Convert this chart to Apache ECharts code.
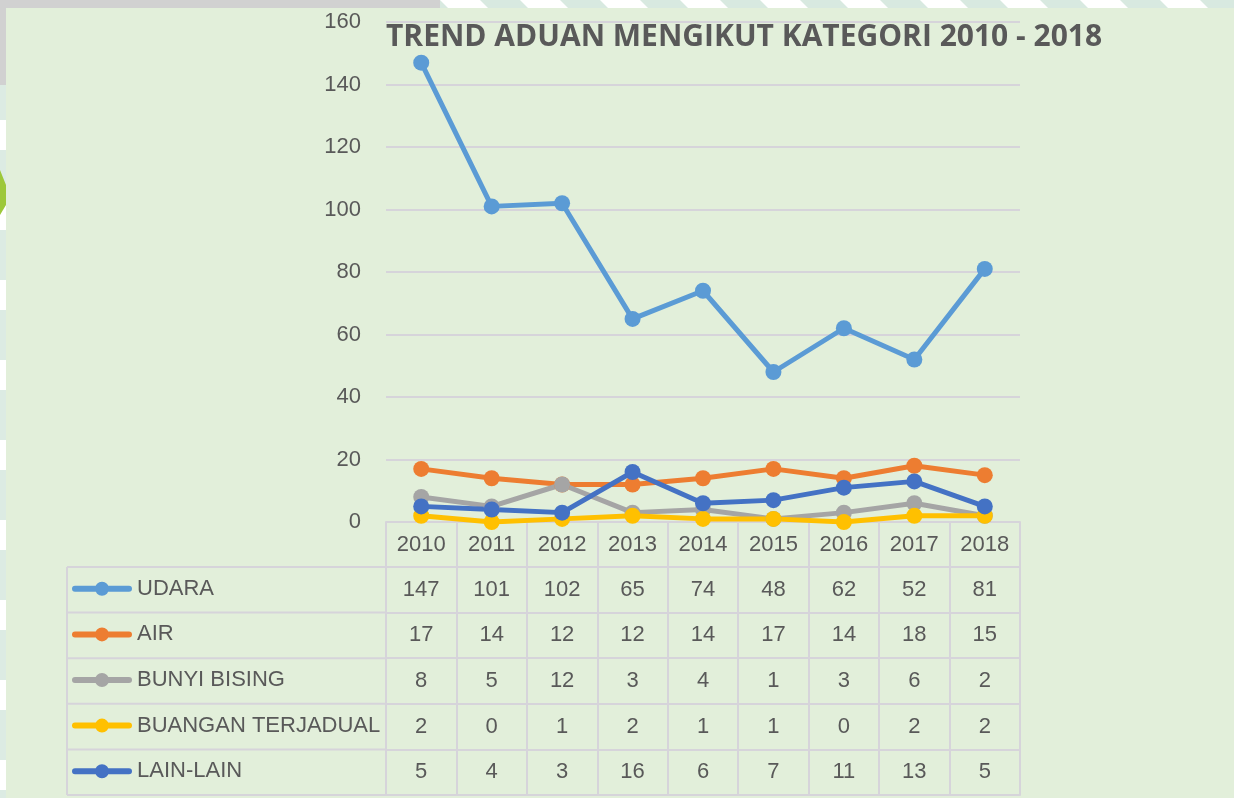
<!DOCTYPE html>
<html>
<head>
<meta charset="utf-8">
<title>Trend Aduan Mengikut Kategori 2010 - 2018</title>
<script src="https://cdn.jsdelivr.net/npm/echarts@6/dist/echarts.min.js"></script>
<style>
  html, body { margin: 0; padding: 0; background: #e2efda; }
  #chart { width: 1234px; height: 798px; }
</style>
</head>
<body>
<div id="chart"></div>
<script>
// data
var years = ["2010", "2011", "2012", "2013", "2014", "2015", "2016", "2017", "2018"];
var seriesNames = ["UDARA", "AIR", "BUNYI BISING", "BUANGAN TERJADUAL", "LAIN-LAIN"];
var udara = [147, 101, 102, 65, 74, 48, 62, 52, 81];
var air = [17, 14, 12, 12, 14, 17, 14, 18, 15];
var bunyiBising = [8, 5, 12, 3, 4, 1, 3, 6, 2];
var buanganTerjadual = [2, 0, 1, 2, 1, 1, 0, 2, 2];
var lainLain = [5, 4, 3, 16, 6, 7, 11, 13, 5];
var yTicks = [0, 20, 40, 60, 80, 100, 120, 140, 160];

var allValues = [udara, air, bunyiBising, buanganTerjadual, lainLain];
var colors = ["#5b9bd5", "#ed7d31", "#a5a5a5", "#ffc000", "#4472c4"];

var textColor = "#595959";
var lineColor = "#d6d4da";
var font = "'Liberation Sans', Arial, sans-serif";
var fs = 22;

// layout of the plot and table
var gridLeft = 386, gridRight = 214, gridTop = 22, gridBottom = 276;
var axisY = 798 - gridBottom;   // 522
var headH = 45;
var rowH = 45.6;
var tableLeft = 67;

// legend icon: thick rounded line with a dot in the middle
var legendIcon = "path://M3,4.5H57a3,3 0 0,1 0,6H3a3,3 0 0,1 0,-6Z" +
    "M23,7.5a7,7 0 1,1 14,0a7,7 0 1,1 -14,0Z";

var chart = echarts.init(document.getElementById("chart"));

var xAxes = [];
// header row with the years
xAxes.push({
    type: "category", data: years, position: "bottom", offset: 0,
    axisLine: { show: true, lineStyle: { color: lineColor, width: 2 } },
    axisTick: { show: true, length: headH, lineStyle: { color: lineColor, width: 2 } },
    axisLabel: { color: textColor, fontSize: fs, fontFamily: font, verticalAlign: "middle", margin: headH / 2 }
});
// one axis per table row, labels are the series values
allValues.forEach(function (vals, k) {
    xAxes.push({
        type: "category", data: years, position: "bottom", offset: headH + k * rowH,
        axisLine: { show: true, lineStyle: { color: lineColor, width: 2 } },
        axisTick: { show: true, length: rowH, lineStyle: { color: lineColor, width: 2 } },
        axisLabel: {
            color: textColor, fontSize: fs, fontFamily: font, verticalAlign: "middle", margin: rowH / 2,
            formatter: function (v, i) { return String(vals[i]); }
        }
    });
});
// closing line under the last row
xAxes.push({
    type: "category", data: years, position: "bottom", offset: headH + 5 * rowH,
    axisLine: { show: true, lineStyle: { color: lineColor, width: 2 } },
    axisTick: { show: false }, axisLabel: { show: false }
});

var legends = seriesNames.map(function (name, k) {
    var cy = axisY + headH + k * rowH + rowH / 2;
    return {
        data: [{ name: name, icon: legendIcon }], left: 72, top: cy - 12, orient: "vertical",
        itemWidth: 60, itemHeight: 14, itemGap: 0, padding: 0,
        selectedMode: false,
        textStyle: { color: textColor, fontSize: fs, fontFamily: font }
    };
});

var series = seriesNames.map(function (name, k) {
    return {
        name: name, type: "line", data: allValues[k],
        symbol: "circle", symbolSize: 16,
        lineStyle: { width: 5, color: colors[k] },
        itemStyle: { color: colors[k] },
        animation: false
    };
});

// table lines in the legend column + frame decorations
var graphics = [];
for (var r = 0; r <= 5; r++) {
    var y = axisY + headH + r * rowH;
    graphics.push({
        type: "line", shape: { x1: tableLeft, y1: y, x2: gridLeft, y2: y },
        style: { stroke: lineColor, lineWidth: 2 }
    });
}
graphics.push({
    type: "line", shape: { x1: tableLeft, y1: axisY + headH, x2: tableLeft, y2: axisY + headH + 5 * rowH },
    style: { stroke: lineColor, lineWidth: 2 }
});
// top frame strip
graphics.push({ type: "rect", shape: { x: 0, y: 0, width: 1234, height: 8 }, style: { fill: "#d1d1d1" }, z: -1 });
graphics.push({ type: "rect", shape: { x: 440, y: 0, width: 794, height: 8 }, style: { fill: "#d8e9e0" }, z: -1 });
for (var sx = 440; sx < 1234; sx += 80) {
    graphics.push({
        type: "polygon", shape: { points: [[sx, 0], [sx + 40, 0], [sx + 48, 8], [sx + 8, 8]] },
        style: { fill: "#ffffff" }, z: -1
    });
}
// left frame strip
graphics.push({ type: "rect", shape: { x: 0, y: 0, width: 6, height: 85 }, style: { fill: "#d1d1d1" }, z: -1 });
graphics.push({ type: "rect", shape: { x: 0, y: 85, width: 6, height: 713 }, style: { fill: "#dcebe3" }, z: -1 });
for (var sy = 120; sy < 798; sy += 80) {
    graphics.push({ type: "rect", shape: { x: 0, y: sy, width: 6, height: 30 }, style: { fill: "#ffffff" }, z: -1 });
}
graphics.push({ type: "polygon", shape: { points: [[0, 170], [6, 185], [6, 205], [0, 215]] }, style: { fill: "#9dc83a" }, z: -1 });

chart.setOption({
    backgroundColor: "#e2efda",
    animation: false,
    title: {
        text: "TREND ADUAN MENGIKUT KATEGORI 2010 - 2018",
        left: 381, top: 17,
        textStyle: { color: textColor, fontSize: 30, fontWeight: "bold", fontFamily: "'Open Sans', sans-serif" }
    },
    grid: { left: gridLeft, right: gridRight, top: gridTop, bottom: gridBottom, containLabel: false },
    legend: legends,
    xAxis: xAxes,
    yAxis: {
        type: "value", min: yTicks[0], max: yTicks[yTicks.length - 1], interval: 20,
        axisLine: { show: false }, axisTick: { show: false },
        axisLabel: { color: textColor, fontSize: fs, fontFamily: font, margin: 25 },
        splitLine: { lineStyle: { color: lineColor, width: 2 } }
    },
    series: series,
    graphic: graphics
});
</script>
</body>
</html>
